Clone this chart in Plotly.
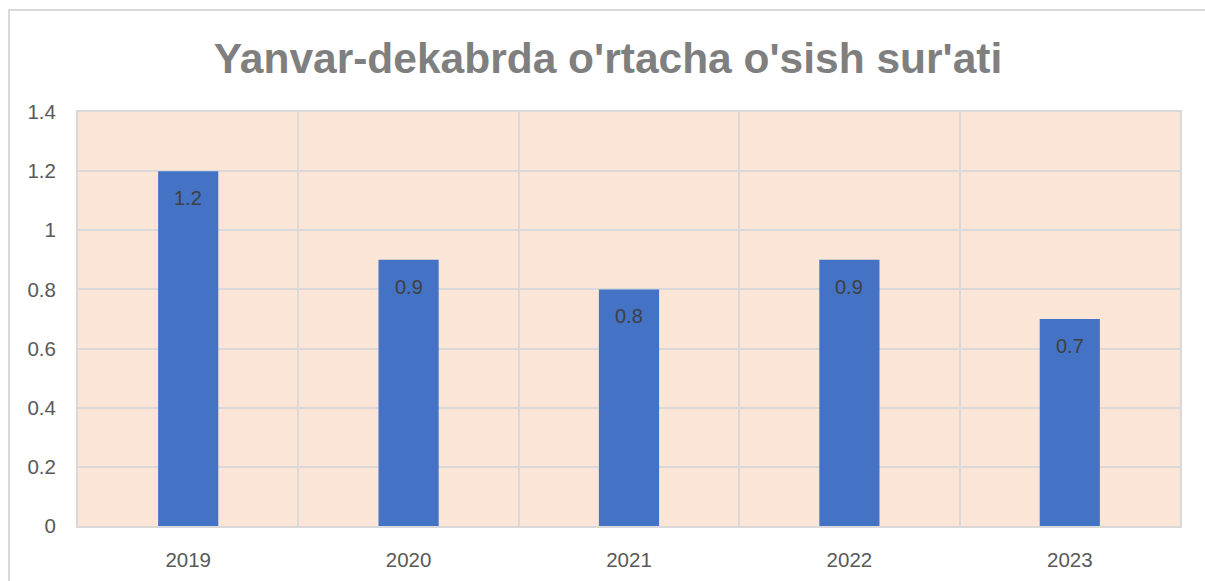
import plotly.graph_objects as go

years = ["2019", "2020", "2021", "2022", "2023"]
values = [1.2, 0.9, 0.8, 0.9, 0.7]
labels = ["1.2", "0.9", "0.8", "0.9", "0.7"]
y_ticks = [0, 0.2, 0.4, 0.6, 0.8, 1, 1.2, 1.4]
y_ticktext = ["0", "0.2", "0.4", "0.6", "0.8", "1", "1.2", "1.4"]
title = "Yanvar-dekabrda o'rtacha o'sish sur'ati"

FONT = "Liberation Sans, Arial, sans-serif"

fig = go.Figure()
fig.add_trace(go.Bar(
    x=years, y=values, width=0.273,
    marker=dict(color="#4472C4", line=dict(width=0)),
    hoverinfo="skip",
))

for i, (v, lab) in enumerate(zip(values, labels)):
    fig.add_annotation(x=i, y=v, text=lab, showarrow=False, yshift=-27,
                       xref="x", yref="y",
                       font=dict(family=FONT, size=20, color="#404040"))

fig.update_layout(
    width=1205, height=581,
    margin=dict(l=78, r=25, t=112, b=55, autoexpand=False),
    paper_bgcolor="white",
    plot_bgcolor="#FBE5D6",
    showlegend=False,
    title=dict(text="<b>" + title + "</b>", x=0.481, xref="paper", xanchor="center",
               y=0.90, yref="container", yanchor="middle",
               font=dict(family=FONT, size=42.5, color="#7F7F7F")),
    xaxis=dict(type="category", categoryorder="array", categoryarray=years,
               range=[-0.5, 4.5], tickson="boundaries", showgrid=True, gridcolor="#D9D9D9",
               gridwidth=2, showline=True, linecolor="#D9D9D9", linewidth=2, mirror=True,
               ticks="", ticklabelstandoff=14, tickangle=0, automargin=False,
               tickfont=dict(family=FONT, size=20.5, color="#595959")),
    yaxis=dict(range=[0, 1.4], tickvals=y_ticks, ticktext=y_ticktext, showgrid=True,
               gridcolor="#D9D9D9", gridwidth=2, showline=True, linecolor="#D9D9D9",
               linewidth=2, mirror=True, zeroline=False, ticks="", ticklabelstandoff=16,
               automargin=False,
               tickfont=dict(family=FONT, size=20.5, color="#595959")),
    shapes=[dict(type="rect", xref="paper", yref="paper",
                 x0=(9 - 78) / 1102, x1=(1215 - 78) / 1102,
                 y0=(526 - 600) / 414, y1=(526 - 10) / 414,
                 line=dict(color="#D9D9D9", width=2), fillcolor="rgba(0,0,0,0)",
                 layer="below")],
)

fig.write_html("out.html")
